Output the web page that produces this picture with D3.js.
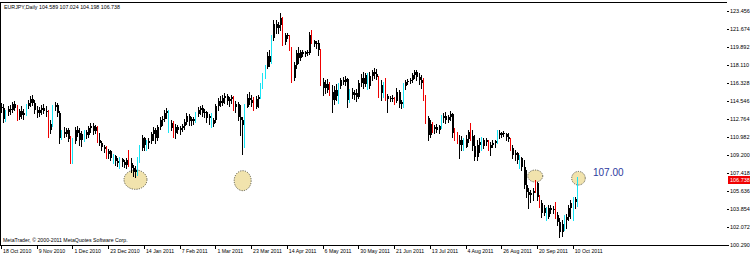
<!DOCTYPE html>
<html>
<head>
<meta charset="utf-8">
<script src="https://cdn.jsdelivr.net/npm/d3@7/dist/d3.min.js"></script>
<style>
  body { margin: 0; background: #fff; }
  svg { display: block; }
</style>
</head>
<body>
<div id="chart"></div>
<script>
// EURJPY daily, 18 Oct 2010 - 12 Oct 2011
const symbol = "EURJPY,Daily";
const headerOHLC = ["104.589", "107.024", "104.198", "106.738"];

const opens = [
  113.95,113.85,112.76,113.46,113.75,113.66,114.25,113.85,112.96,113.56,113.16,113.36,114.05,114.35,114.74,114.35,113.66,113.36,113.66,113.85,
  113.56,113.46,111.68,112.27,113.95,114.15,113.36,110.88,111.48,111.28,111.68,110.78,108.90,110.59,111.68,111.38,110.69,111.28,111.48,111.18,
  111.87,112.07,111.58,111.97,110.69,110.39,109.99,109.79,109.30,109.60,108.90,109.10,108.61,108.41,108.80,108.51,108.21,108.90,108.41,107.91,
  107.52,107.72,108.71,109.89,110.88,110.19,110.39,110.59,111.28,111.68,110.88,111.97,112.67,112.76,113.36,113.56,111.87,112.37,111.38,111.97,
  111.68,111.87,112.07,112.47,113.06,112.57,112.76,112.57,113.26,113.66,113.85,113.36,113.46,112.86,113.06,112.27,112.67,114.05,114.55,114.35,
  114.84,115.04,114.55,114.74,114.94,113.95,114.25,112.96,112.67,112.17,113.95,114.84,114.65,114.35,113.95,114.74,114.94,116.03,117.02,117.91,
  119.00,118.41,120.78,122.17,121.77,122.07,122.76,120.39,121.08,120.98,119.79,116.82,118.11,119.30,118.80,119.40,119.20,119.40,119.30,121.08,
  120.49,120.19,120.29,119.60,116.43,115.83,116.23,115.63,115.44,114.65,115.63,115.04,116.03,116.63,116.43,116.72,114.65,115.44,115.14,115.34,
  114.94,116.33,116.82,116.23,117.12,116.03,117.02,117.42,117.22,116.92,115.34,116.13,115.63,115.04,114.74,114.84,114.74,114.55,115.44,114.25,
  114.45,116.03,116.43,116.53,116.63,117.12,117.42,116.92,116.63,116.33,115.04,112.86,111.18,112.27,111.77,111.97,111.68,112.07,112.86,113.06,
  112.67,112.96,113.26,111.38,110.98,110.69,110.19,110.69,109.99,110.78,111.48,111.08,110.09,109.00,110.19,110.49,110.09,110.69,110.49,109.89,
  110.19,110.39,110.59,111.38,111.18,111.38,111.28,110.98,110.78,109.89,109.20,109.40,108.71,108.90,108.01,106.23,105.54,105.24,105.44,105.64,
  106.43,105.04,104.45,103.46,103.95,103.06,103.95,103.76,103.85,103.26,102.57,101.58,102.37,102.77,103.06,103.95,104.45,104.85,104.59
];
const highs = [
  114.35,114.25,113.66,114.05,114.15,114.45,114.55,114.15,113.75,114.05,113.75,114.25,114.65,115.04,115.14,114.65,114.05,113.95,114.15,114.25,
  114.05,113.66,112.67,114.15,114.45,114.35,113.56,111.68,111.97,111.87,111.87,111.08,110.88,111.97,112.07,111.87,111.58,111.68,111.68,112.07,
  112.37,112.37,112.17,112.07,111.38,110.59,110.19,110.09,109.79,109.70,109.30,109.20,108.90,109.00,108.90,108.71,108.90,109.70,108.90,108.21,
  108.11,109.00,110.19,111.18,110.98,110.69,110.88,111.48,111.97,111.87,112.17,112.96,113.06,113.66,113.85,113.66,112.67,112.57,112.27,112.17,
  112.07,112.27,112.76,113.36,113.26,112.96,112.96,113.46,113.95,114.05,114.15,113.75,113.56,113.26,113.36,112.86,114.25,114.84,115.04,115.14,
  115.34,115.24,114.94,115.14,115.04,114.55,114.45,114.15,112.96,114.25,115.24,115.44,115.14,114.94,115.04,115.14,116.33,117.32,118.11,119.40,
  119.60,121.08,122.57,122.57,122.37,123.26,122.86,121.28,121.28,121.08,119.89,118.41,119.60,119.89,119.60,119.60,119.50,119.60,121.38,121.57,
  120.59,120.49,120.59,119.70,116.82,116.63,116.72,116.43,116.13,116.03,116.23,116.33,116.82,116.92,117.02,116.82,115.74,115.83,115.63,115.74,
  116.63,117.22,117.42,117.32,117.32,117.42,117.62,117.81,117.71,117.02,116.63,116.43,116.82,115.24,115.04,115.14,114.94,115.83,115.63,114.65,
  116.33,116.63,116.72,116.82,117.32,117.62,117.62,117.32,117.12,116.82,115.14,113.06,112.67,112.47,112.17,112.27,112.17,113.16,113.36,113.46,
  113.16,113.56,113.36,111.87,111.48,111.18,111.08,110.88,111.18,111.68,112.37,111.68,111.18,110.69,110.88,110.98,110.88,110.88,110.69,110.49,
  110.69,110.69,111.68,111.68,111.48,111.58,111.38,111.38,110.88,110.19,109.70,109.50,109.20,109.00,108.71,107.72,105.93,105.74,105.93,106.73,
  106.53,105.24,104.75,104.25,104.05,104.25,104.25,104.15,104.55,103.56,102.96,102.77,103.26,103.36,104.25,104.75,105.04,105.04,107.02
];
const lows = [
  113.46,112.47,112.57,113.16,113.26,113.46,113.66,112.67,112.76,112.86,112.76,113.16,113.85,114.05,114.15,113.36,112.96,113.06,113.26,113.36,
  113.06,110.98,111.38,112.07,113.66,113.06,110.39,110.78,110.98,111.08,110.59,108.41,108.41,110.39,111.08,110.19,110.09,110.59,110.88,110.98,
  111.48,111.28,111.38,110.49,110.19,109.70,109.50,108.90,108.90,108.71,108.41,108.21,108.11,107.91,108.11,108.01,107.91,108.11,107.52,107.12,
  107.02,107.22,108.51,109.70,109.70,109.70,109.89,110.39,110.69,110.39,110.69,111.77,112.17,112.57,112.86,111.48,111.68,110.98,110.88,111.38,
  111.28,111.58,111.77,112.27,112.17,112.17,112.27,112.47,113.06,113.26,113.06,112.96,112.47,112.27,111.97,112.07,112.47,113.66,114.05,114.15,
  114.35,114.25,114.05,114.35,113.66,113.46,112.67,111.18,109.30,109.99,113.95,114.25,114.05,113.66,113.85,113.95,114.84,115.83,116.82,117.81,
  118.01,118.31,120.59,121.28,121.28,121.57,120.09,120.19,120.78,119.60,116.43,116.63,117.81,118.31,118.61,119.00,119.00,119.10,119.20,120.29,
  119.99,119.79,119.10,116.13,115.14,115.34,115.44,115.14,113.46,114.25,114.65,114.35,115.83,116.23,116.13,113.95,114.45,114.84,114.74,114.55,
  114.84,116.03,115.83,116.03,115.74,115.83,116.63,116.82,116.72,114.94,114.65,114.94,114.65,113.46,114.55,114.55,114.25,114.45,113.95,113.85,
  113.95,115.74,116.23,116.33,116.43,116.82,116.63,116.23,115.83,114.65,112.37,110.69,110.98,111.48,111.38,111.48,111.38,111.87,112.47,112.37,
  112.47,112.67,110.98,110.69,110.39,108.90,109.70,109.70,109.99,110.49,110.69,109.70,108.71,108.71,109.50,109.70,109.89,110.19,109.70,109.20,
  109.99,109.99,110.39,110.88,110.98,111.08,110.69,110.59,109.70,108.90,108.71,108.41,107.91,107.72,105.93,105.04,103.95,104.55,104.75,105.54,
  104.75,104.05,103.06,103.26,102.77,102.96,103.46,103.46,102.96,102.27,101.08,101.18,101.78,101.97,102.77,102.96,102.77,103.95,104.20
];
const closes = [
  113.85,112.76,113.46,113.75,113.66,114.25,113.85,112.96,113.56,113.16,113.36,114.05,114.35,114.74,114.35,113.66,113.36,113.66,113.85,113.56,
  113.46,111.68,112.27,113.95,114.15,113.36,110.88,111.48,111.28,111.68,110.78,108.90,110.59,111.68,111.38,110.69,111.28,111.48,111.18,111.87,
  112.07,111.58,111.97,110.69,110.39,109.99,109.79,109.30,109.60,108.90,109.10,108.61,108.41,108.80,108.51,108.21,108.71,108.41,107.91,107.52,
  107.72,108.71,109.89,110.88,110.19,110.39,110.59,111.28,111.68,110.88,111.97,112.67,112.76,113.36,113.56,111.87,112.37,111.38,111.97,111.68,
  111.87,112.07,112.47,113.06,112.57,112.76,112.57,113.26,113.66,113.85,113.36,113.46,112.86,113.06,112.27,112.67,114.05,114.55,114.35,114.84,
  115.04,114.55,114.74,114.94,113.95,114.25,112.96,112.67,112.17,113.95,114.84,114.65,114.35,113.95,114.74,114.94,116.03,117.02,117.91,119.00,
  118.41,120.78,122.17,121.77,122.07,122.76,120.39,121.08,120.98,119.79,116.82,118.11,119.30,118.80,119.40,119.20,119.40,119.30,121.08,120.49,
  120.19,120.29,119.60,116.43,115.83,116.23,115.63,115.44,114.65,115.63,115.04,116.03,116.63,116.43,116.72,114.65,115.44,115.14,115.34,114.94,
  116.33,116.82,116.23,117.12,116.03,117.02,117.42,117.22,116.92,115.34,116.13,115.63,115.04,114.74,114.84,114.74,114.55,115.44,114.25,114.45,
  116.03,116.43,116.53,116.63,117.12,117.42,116.92,116.63,116.33,115.04,112.86,111.18,112.27,111.77,111.97,111.68,112.07,112.86,113.06,112.67,
  112.96,113.26,111.38,110.98,110.69,110.19,110.69,109.99,110.78,111.48,111.08,110.09,109.00,110.19,110.49,110.09,110.69,110.49,109.89,110.19,
  110.39,110.59,111.38,111.18,111.38,111.28,110.98,110.78,109.89,109.20,109.40,108.71,108.90,108.01,106.23,105.54,105.24,105.44,105.64,106.43,
  105.04,104.45,103.46,103.95,103.06,103.95,103.76,103.85,103.26,102.57,101.58,102.37,102.77,103.06,103.95,104.45,104.85,104.55,106.74
];

// bars painted in colour (index of the day)
const cyanBars = [2,11,23,27,32,37,50,53,61,62,65,75,87,94,109,116,117,118,121,151,156,164,171,180,197,207,215,222,232,244,252,256,258];
const redBars = [7,21,31,43,47,57,77,104,113,126,129,130,139,143,147,169,172,176,189,190,193,203,204,210,218,228,239,241,248];

// date scale labels, one every 16 bars
const dateLabels = ["18 Oct 2010","9 Nov 2010","1 Dec 2010","23 Dec 2010","14 Jan 2011","7 Feb 2011","1 Mar 2011",
  "23 Mar 2011","14 Apr 2011","6 May 2011","30 May 2011","21 Jun 2011","13 Jul 2011","4 Aug 2011","26 Aug 2011",
  "20 Sep 2011","10 Oct 2011"];
const priceTicks = [100.290,102.072,103.854,105.636,107.418,109.200,110.982,112.764,114.546,116.328,118.110,119.892,121.674,123.456];

// hand drawn marks: bar index and price level
const markBars = [60, 108, 239, 258];
const markPrices = [106.76, 106.66, 107.12, 106.90];
const noteText = "107.00";
const notePrice = 107.00;

// layout
const W = 750, H = 255;
const plotRight = 727, plotTop = 2, plotBottom = 245;
const barStep = 16;

const svg = d3.select("#chart").append("svg")
  .attr("width", W).attr("height", H)
  .style("font-family", "'Liberation Sans', Arial, sans-serif");

svg.append("rect").attr("width", W).attr("height", H).attr("fill", "#fff");

const x = d3.scaleLinear().domain([0, 256]).range([1, 572.7]);
const y = d3.scaleLinear().domain([100.29, 123.456]).range([plotBottom, 11]);

// frame
svg.append("path")
  .attr("d", `M${plotRight},${plotTop + 0.5}H0.5V${plotBottom + 0.5}H${plotRight + 2}`)
  .attr("fill", "none").attr("stroke", "#000").attr("stroke-width", 1)
  .attr("shape-rendering", "crispEdges");

// circles under the bars
const rx = [11.5, 8.5, 7.5, 6.8], ry = [9.7, 10, 6, 6.8];
svg.append("g").selectAll("ellipse")
  .data(markBars)
  .enter().append("ellipse")
    .attr("cx", (d, i) => x(d) + (i === 3 ? 1.3 : 0.5))
    .attr("cy", (d, i) => y(markPrices[i]))
    .attr("rx", (d, i) => rx[i])
    .attr("ry", (d, i) => ry[i])
    .attr("fill", "#f1e3ad")
    .attr("stroke", "#3a3a2a")
    .attr("stroke-width", 0.8)
    .attr("stroke-dasharray", "1.2,1.2");

// bars
const idx = d3.range(opens.length);
const colourOf = i => cyanBars.includes(i) ? "#18e4f4" : (redBars.includes(i) ? "#f00000" : "#000");
const bars = svg.append("g").attr("shape-rendering", "crispEdges");

bars.selectAll("line.wick")
  .data(idx)
  .enter().append("line")
    .attr("class", "wick")
    .attr("x1", i => Math.round(x(i)) + 0.5)
    .attr("x2", i => Math.round(x(i)) + 0.5)
    .attr("y1", i => y(highs[i]))
    .attr("y2", i => y(lows[i]) + 1)
    .attr("stroke", i => colourOf(i))
    .attr("stroke-width", 1);

bars.selectAll("rect.body")
  .data(idx.filter(i => colourOf(i) === "#000"))
  .enter().append("rect")
    .attr("class", "body")
    .attr("x", i => Math.round(x(i)))
    .attr("y", i => y(Math.max(opens[i], closes[i])))
    .attr("width", 2)
    .attr("height", i => Math.max(1, Math.abs(y(opens[i]) - y(closes[i]))))
    .attr("fill", "#000");

// header and copyright
svg.append("text")
  .attr("x", 4).attr("y", 9)
  .attr("font-size", 5.3).attr("fill", "#000")
  .text(symbol + "  " + headerOHLC.join(" "));

svg.append("text")
  .attr("x", 3).attr("y", 242)
  .attr("font-size", 5.2).attr("fill", "#000")
  .text("MetaTrader, \u00a9 2000-2011 MetaQuotes Software Corp.");

// note
svg.append("text")
  .attr("x", 593).attr("y", y(notePrice) - 1.5)
  .attr("font-size", 10).attr("fill", "#2c3a9e")
  .text(noteText);

// price scale
const pAxis = svg.append("g");
pAxis.selectAll("line")
  .data(priceTicks)
  .enter().append("line")
    .attr("x1", plotRight).attr("x2", plotRight + 2)
    .attr("y1", d => Math.round(y(d)) + 0.5).attr("y2", d => Math.round(y(d)) + 0.5)
    .attr("stroke", "#000").attr("shape-rendering", "crispEdges");
pAxis.selectAll("text")
  .data(priceTicks)
  .enter().append("text")
    .attr("x", 730).attr("y", d => y(d) + 2)
    .attr("font-size", 5.5).attr("fill", "#000")
    .text(d => d3.format(".3f")(d));

// current price box
const last = closes[closes.length - 1];
svg.append("rect")
  .attr("x", 728).attr("y", Math.round(y(last)) - 4)
  .attr("width", 22).attr("height", 8)
  .attr("fill", "#f00000");
svg.append("text")
  .attr("x", 730).attr("y", y(last) + 2)
  .attr("font-size", 5.5).attr("fill", "#fff")
  .text(headerOHLC[3]);

// date scale
const tAxis = svg.append("g");
tAxis.selectAll("line")
  .data(dateLabels)
  .enter().append("line")
    .attr("x1", (d, i) => Math.round(x(i * barStep)) + 0.5)
    .attr("x2", (d, i) => Math.round(x(i * barStep)) + 0.5)
    .attr("y1", plotBottom).attr("y2", plotBottom + 4)
    .attr("stroke", "#000").attr("shape-rendering", "crispEdges");
tAxis.selectAll("text")
  .data(dateLabels)
  .enter().append("text")
    .attr("x", (d, i) => x(i * barStep) + 2)
    .attr("y", 253)
    .attr("font-size", 5.2).attr("fill", "#000")
    .text(d => d);
</script>
</body>
</html>
